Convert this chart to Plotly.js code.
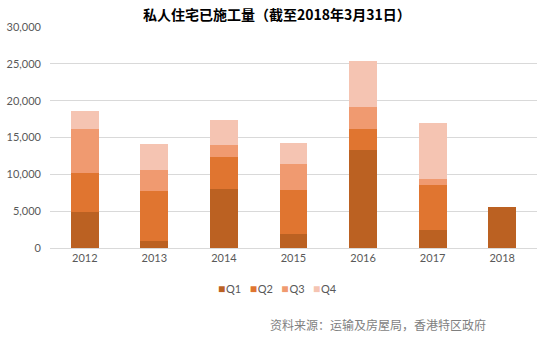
<!DOCTYPE html>
<html><head><meta charset="utf-8">
<script src="https://cdn.plot.ly/plotly-3.0.1.min.js"></script>
<style>html,body{margin:0;padding:0;background:#fff}#chart{width:543px;height:339px}</style>
</head><body><div id="chart"></div>
<script>
const years = ['2012','2013','2014','2015','2016','2017','2018'];
const q1 = [4900, 1000, 8000, 1900, 13280, 2430, 5580];
const q2 = [5250, 6740, 4340, 5980, 2840, 6120, null];
const q3 = [5970, 2840, 1620, 3510, 2980, 820, null];
const q4 = [2430, 3520, 3380, 2840, 6350, 7560, null];
const seriesNames = ['Q1','Q2','Q3','Q4'];
const colors = ['#BB6122','#E07530','#F09A70','#F5C4B2'];
const yTicks = [0,5000,10000,15000,20000,25000,30000];
const yTickText = ['0','5,000','10,000','15,000','20,000','25,000','30,000'];
const titleText = '私人住宅已施工量（截至2018年3月31日）';
const sourceText = '资料来源：运输及房屋局，香港特区政府';

const data = [q1,q2,q3,q4].map((v,i)=>({
  type:'bar', x:years, y:v, name:seriesNames[i],
  marker:{color:colors[i]}, hoverinfo:'skip', showlegend:false
}));
const legendText = seriesNames.map((n,i)=>
  '<span style="color:'+colors[i]+';font-size:12px">■</span><span style="font-size:3px"> </span>'+n
).join('&nbsp;&nbsp;&nbsp;');
const layout = {
  width:543, height:339,
  margin:{l:50,r:6,t:27,b:91},
  barmode:'stack', bargap:0.6,
  paper_bgcolor:'#fff', plot_bgcolor:'#fff',
  title:{text:'<b>'+titleText+'</b>', x:0.51, xanchor:'center', y:0.955, yanchor:'middle',
    font:{family:'Noto Sans CJK SC', size:14, color:'#000'}},
  xaxis:{type:'category', showgrid:false, showline:true, linecolor:'#d9d9d9', linewidth:1,
    ticks:'', tickfont:{family:'Lato, Carlito, sans-serif', size:11, color:'#595959'}, fixedrange:true},
  yaxis:{range:[0,30000], tickvals:yTicks, ticktext:yTickText, showgrid:true, gridcolor:'#d9d9d9',
    gridwidth:1, zeroline:false, showline:false, ticks:'', ticklabelstandoff:8,
    tickfont:{family:'Lato, Carlito, sans-serif', size:11, color:'#595959'}, fixedrange:true},
  showlegend:false,
  annotations:[
    {text:legendText, xref:'paper', yref:'paper', x:0.467, xanchor:'center', y:-0.181, yanchor:'middle',
     showarrow:false, font:{family:'Lato, sans-serif', size:11, color:'#595959'}},
    {text:sourceText, xref:'paper', yref:'paper', x:1, xanchor:'right', y:-0.348, yanchor:'middle',
     xshift:-49, showarrow:false, font:{family:'Noto Sans CJK SC', size:12, color:'#7f7f7f'}}]
};
Plotly.newPlot('chart', data, layout, {displayModeBar:false, staticPlot:true});
</script></body></html>
